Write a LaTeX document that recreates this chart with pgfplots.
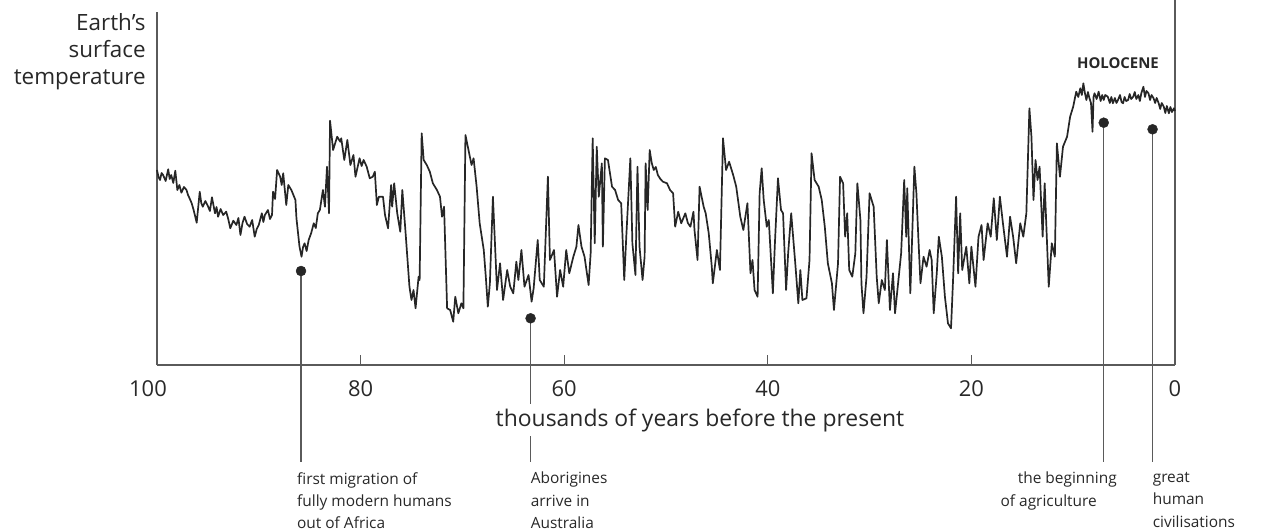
\documentclass[border=0pt]{standalone}
\usepackage{pgfplots}
\pgfplotsset{compat=1.18}
\usepackage{fontspec}
\setmainfont{Open Sans}
\definecolor{curve}{RGB}{38,38,38}
\definecolor{axisgray}{RGB}{90,90,90}
\definecolor{txt}{RGB}{40,40,40}

\pgfplotstableread{
ky temp
100.0 195
99.85 188
99.7 185
99.55 192
99.4 190
99.15 184
98.9 195.7
98.75 186
98.6 190
98.4 182
98.2 194.3
98.0 175
97.8 180
97.6 172.3
97.35 178
97.1 175
96.95 170
96.8 166.7
96.6 162
96.4 155
96.1 142.3
95.8 173.3
95.65 162
95.5 158.3
95.25 164
95.0 159
94.8 154
94.6 167.7
94.3 151.7
94.15 158
94.0 148.3
93.75 156
93.5 150
93.2 153.3
93.0 146
92.8 136.7
92.5 144.3
92.2 140
92.0 147
91.8 130
91.6 142
91.4 148.3
91.15 141
90.9 138.3
90.65 145
90.4 128.3
90.2 136
90.0 140
89.7 151.7
89.55 143
89.4 150
89.1 155
88.9 146
88.7 150
88.6 173.3
88.4 166
88.2 195
87.9 188.3
87.75 180
87.6 191.7
87.3 160
87.1 180
86.8 175
86.6 170
86.4 165
86.3 146.7
86.0 118.3
85.8 108.3
85.65 118
85.5 121.7
85.3 114
85.1 125
84.85 132
84.6 141.7
84.4 137
84.2 151.7
84.0 155
83.7 175
83.5 158.3
83.3 198.3
83.1 151.7
83.0 244.3
82.7 215
82.3 228.3
82.0 223.3
81.9 226.7
81.6 205
81.3 225
81.0 200
80.7 210
80.5 188.3
80.1 206.7
79.9 199
79.7 205
79.4 198.3
79.1 186.7
78.8 188.3
78.6 193.3
78.4 160
78.2 168.3
77.8 168.3
77.6 150
77.3 136.7
77.0 180
76.9 158.3
76.7 181.7
76.4 151.7
76.1 133.3
75.9 175
75.6 135
75.2 78.3
75.0 65
74.8 75
74.6 56.7
74.3 88.3
74.2 85
74.0 231.7
73.8 205
73.5 200
73.2 193.3
72.9 181.7
72.5 175
72.2 168.3
72.0 148.3
71.8 158.3
71.5 56.7
71.2 55
70.9 43.3
70.7 68.3
70.4 51.7
70.1 61.7
69.9 56.7
69.7 230
69.4 215
69.1 200
68.9 206.7
68.6 178.3
68.3 141.7
67.9 115
67.7 88.3
67.5 58.3
67.3 81.7
67.0 168.3
66.6 75
66.3 101.7
66.0 65
65.6 95
65.3 78.3
65.0 71.7
64.7 103.3
64.5 85
64.2 115
63.9 78.3
63.5 90
63.2 63.3
63.0 76.7
62.6 125
62.4 85
62.0 78.3
61.6 188.3
61.4 105
61.0 115
60.7 68.3
60.4 95
60.1 78.3
59.8 115
59.5 91.7
59.1 108.3
58.8 118.3
58.6 140
58.3 118.3
58.0 108.3
57.6 80
57.4 111.7
57.2 226.7
57.0 121.7
56.8 218.3
56.6 168.3
56.3 201.7
56.2 118.3
56.0 206.7
55.7 205
55.3 178.3
55.0 175
54.7 165
54.4 161.7
54.1 85
53.9 128.3
53.5 206.7
53.3 121.7
53.0 90
52.8 198.3
52.6 118.3
52.3 85
52.1 108.3
52.0 201.7
51.8 155
51.6 215
51.4 202
51.2 195
51.0 198
50.8 190
50.55 186
50.3 183.3
49.9 181.7
49.6 175
49.3 171.7
49.1 138.3
48.8 153.3
48.5 141.7
48.1 151.7
47.85 142
47.6 138.3
47.3 153.3
47.2 135
46.9 105
46.7 178.3
46.3 158.3
46.1 151.7
45.8 131.7
45.5 98.3
45.4 81.7
45.0 115
44.7 95
44.4 226.7
44.1 195
43.8 203.3
43.4 190
43.1 178.3
42.7 148.3
42.4 135
42.0 161.7
41.7 91.7
41.5 105
41.3 75
41.0 68.3
40.8 171.7
40.6 196.7
40.4 165
40.1 138.3
39.9 145
39.5 71.7
39.3 121.7
39.0 186.7
38.7 155
38.5 151.7
38.2 75
38.0 111.7
37.7 151.7
37.3 101.7
37.0 61.7
36.8 95
36.6 65
36.2 66.7
35.9 105
35.7 211.7
35.4 185
35.0 178.3
34.7 165
34.4 138.3
34.1 101.7
33.7 81.7
33.5 55
33.1 101.7
32.9 188.3
32.6 181.7
32.4 128.3
32.2 151.7
32.0 95
31.7 88.3
31.4 111.7
31.2 181.7
30.9 145
30.8 81.7
30.6 51.7
30.3 88.3
30.0 171.7
29.6 158.3
29.3 88.3
29.1 61.7
28.8 85
28.5 75
28.3 125
28.0 55
27.7 91.7
27.5 51.7
27.2 81.7
26.9 111.7
26.6 185
26.4 128.3
26.3 176.7
26.0 71.7
25.9 101.7
25.6 198.3
25.4 171.7
25.2 125
25.0 81.7
24.7 108.3
24.4 98.3
24.1 115
23.9 105
23.7 51.7
23.4 91.7
23.2 128.3
22.9 108.3
22.6 68.3
22.3 41.7
22.0 36.7
21.8 85
21.5 168.3
21.3 91.7
21.1 151.7
20.9 95
20.5 118.3
20.2 81.7
20.0 118.3
19.6 78.3
19.3 128.3
19.0 140
18.8 105
18.4 141.7
18.1 128.3
17.8 166.7
17.5 125
17.2 168.3
16.9 141.7
16.5 108.3
16.2 148.3
15.9 128.3
15.6 101.7
15.2 141.7
14.9 128.3
14.6 151.7
14.3 256.7
14.1 228.3
13.9 165
13.7 205
13.5 185
13.3 198.3
13.0 128.3
12.8 181.7
12.4 78.3
12.1 121.7
11.8 108.3
11.6 221.7
11.3 188.3
11.0 218.3
10.6 228.3
10.3 248.3
10.0 258.3
9.7 273.3
9.5 268
9.3 276.7
9.15 270
9.0 281.7
8.85 272
8.7 265
8.55 273
8.4 266.7
8.25 262
8.1 233.3
8.0 268
7.9 271.7
7.7 266
7.5 273.3
7.3 264
7.15 270
7.0 265
6.85 270
6.6 268.3
6.4 262
6.25 268
6.1 261.7
5.9 267
5.75 262
5.6 265
5.4 270
5.25 263
5.1 261.7
4.95 268
4.8 264
4.6 265
4.45 271
4.3 266
4.1 268.3
3.95 273
3.8 266
3.6 270
3.45 264
3.3 272
3.1 278.3
2.95 268
2.8 274
2.6 271.7
2.45 265
2.3 270
2.1 266.7
1.95 262
1.8 267
1.6 261.7
1.45 256
1.3 262
1.1 258.3
0.95 252
0.8 259
0.6 251.7
0.45 258
0.3 253
0.1 256.7
0.0 254
}\tempdata

\begin{document}
\begin{tikzpicture}
\begin{axis}[
    scale only axis,
    width=1018bp, height=365bp,
    at={(0,0)}, anchor=south west,
    xmin=0, xmax=100, x dir=reverse,
    ymin=0, ymax=365,
    axis x line=bottom,
    axis y line=none,
    x axis line style={-, axisgray, line width=1.4bp},
    xtick={0,20,40,60,80},
    extra x ticks={100},
    extra x tick style={xticklabel style={xshift=-9bp}},
    tick align=inside,
    major tick length=10bp,
    tick style={axisgray, line width=1.1bp},
    xticklabel style={font=\fontsize{22}{26}\selectfont, text=txt, yshift=-12bp},
    /pgf/number format/assume math mode=true,
    clip=false,
]
% vertical annotation lines, below the curve
\draw[axisgray, line width=1.4bp] (axis cs:85.85,94) -- (axis cs:85.85,-97);
\draw[axisgray, line width=1.4bp] (axis cs:63.3,46.7) -- (axis cs:63.3,-97);
\draw[axisgray, line width=1.4bp] (axis cs:7.0,242.3) -- (axis cs:7.0,-97);
\draw[axisgray, line width=1.4bp] (axis cs:2.2,235.7) -- (axis cs:2.2,-97);
% left and right axis rules
\draw[axisgray, line width=1.4bp] (axis cs:100,0) -- (axis cs:100,353);
\draw[axisgray, line width=1.4bp] (axis cs:0,0) -- (axis cs:0,365);

\addplot[color=curve, line width=1.7bp, line join=round] table[x=ky, y=temp] {\tempdata};

\addplot[only marks, mark=*, mark size=5bp, color=curve]
    coordinates {(85.85,94) (63.3,46.7) (7.0,242.3) (2.2,235.7)};

% x axis title, with white box that breaks the Aborigines line
\node[fill=white, inner sep=4bp, text=txt, font=\fontsize{23}{27}\selectfont]
    at (axis cs:46.66,-55) {thousands of years before the present};

% y axis title
\node[anchor=north east, inner sep=0pt, align=right, text=txt,
      font=\fontsize{22.5}{27}\selectfont] at (axis cs:101.1,352)
    {Earth’s\\surface\\temperature};

\node[text=txt, font=\fontsize{15}{18}\selectfont\bfseries] at (axis cs:5.6,302.3) {HOLOCENE};

% event labels
\node[anchor=north west, inner sep=0pt, align=left, text=txt,
      font=\fontsize{15.5}{22.5}\selectfont] at (axis cs:86.25,-107)
    {first migration of\\fully modern humans\\out of Africa};
\node[anchor=north west, inner sep=0pt, align=left, text=txt,
      font=\fontsize{15.5}{22.5}\selectfont] at (axis cs:63.3,-107)
    {Aborigines\\arrive in\\Australia};
\node[anchor=north east, inner sep=0pt, align=right, text=txt,
      font=\fontsize{15.5}{22.5}\selectfont] at (axis cs:5.7,-107)
    {the beginning\\of agriculture\hspace*{20bp}};
\node[anchor=north west, inner sep=0pt, align=left, text=txt,
      font=\fontsize{15.5}{22.5}\selectfont] at (axis cs:2.2,-107)
    {great\\human\\civilisations};
\end{axis}
\pgfresetboundingbox
\useasboundingbox (-157bp,-166bp) rectangle (1110bp,365bp);
\end{tikzpicture}
\end{document}
